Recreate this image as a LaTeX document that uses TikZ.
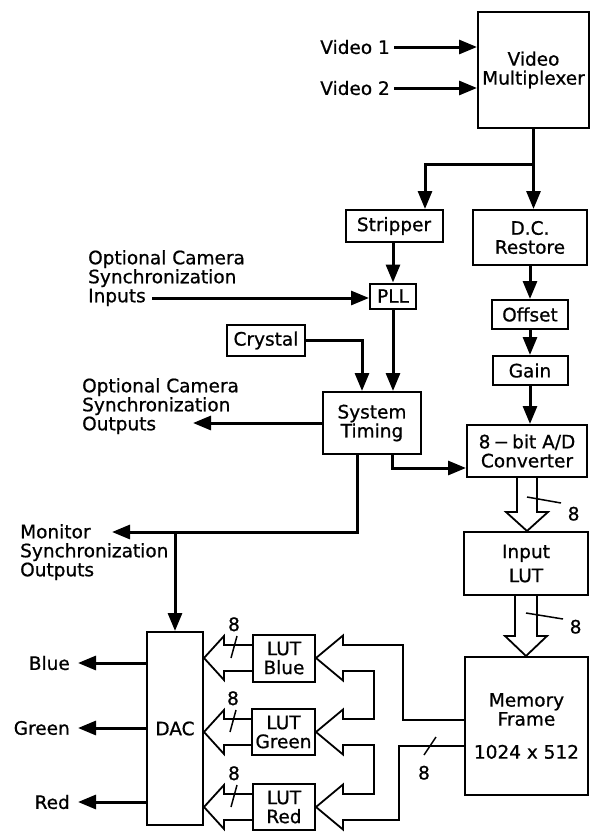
\documentclass[tikz,border=0pt]{standalone}
\usepackage{fontspec}
\setmainfont{DejaVu Sans}[FakeBold=0.8]
\usetikzlibrary{arrows.meta, positioning, calc}

\begin{document}
\begin{tikzpicture}[x=1pt,y=-1pt,
  font=\fontsize{18.5}{19}\selectfont,
  blk/.style={draw,line width=2pt,inner sep=0pt,align=center},
  lbl/.style={inner sep=0pt,align=left},
  sig/.style={line width=3pt,-{Triangle[length=18pt,width=14pt]}},
  bus/.style={line width=1.8pt},
  tick/.style={line width=1.5pt}]
\useasboundingbox (0,0) rectangle (590,833);

% blocks
\node[blk,minimum width=111pt,minimum height=116pt] (mux) at (533.5,70) {Video\\Multiplexer};
\node[blk,minimum width=97pt,minimum height=32pt] (strip) at (394,226) {Stripper};
\node[blk,minimum width=114pt,minimum height=55pt] (dcr) at (530,237.5) {D.C.\\Restore};
\node[blk,minimum width=46pt,minimum height=25pt] (pll) at (393,296) {PLL};
\node[blk,minimum width=76pt,minimum height=29pt] (offset) at (530,314.5) {Offset};
\node[blk,minimum width=78pt,minimum height=31pt] (crystal) at (266,340.5) {Crystal};
\node[blk,minimum width=75pt,minimum height=29pt] (gain) at (530,370.5) {Gain};
\node[blk,minimum width=98pt,minimum height=62pt] (timing) at (372,423) {System\\Timing};
\node[blk,minimum width=120pt,minimum height=52pt] (ad) at (527,451) {8\,−\,bit A/D\\Converter};
\node[blk,minimum width=124pt,minimum height=63pt] (inlut) at (526,563.5) {Input\\[5pt]LUT};
\node[blk,minimum width=123pt,minimum height=138pt] (mem) at (526.5,726) {Memory\\Frame\\[14pt]1024 x 512};
\node[blk,minimum width=56pt,minimum height=193pt] (dac) at (175,728.5) {DAC};
\node[blk,minimum width=62pt,minimum height=47pt] (lutb) at (284,658) {LUT\\Blue};
\node[blk,minimum width=63pt,minimum height=46pt] (lutg) at (283.5,732) {LUT\\Green};
\node[blk,minimum width=62pt,minimum height=46pt] (lutr) at (284,807) {LUT\\Red};

% labels
\node[lbl,anchor=east,inner xsep=4pt] (v1) at (394,47) {Video 1};
\node[lbl,anchor=east,inner xsep=4pt] (v2) at (394,88) {Video 2};
\node[lbl,anchor=north west] (caminlbl) at (88,250) {Optional Camera\\Synchronization\\Inputs};
\coordinate (camin) at (152,298);
\node[lbl,anchor=north west] (camoutlbl) at (82,378) {Optional Camera\\Synchronization\\Outputs};
\coordinate (camout) at (193,423);
\node[lbl,anchor=north west] (monlbl) at (20,524) {Monitor\\Synchronization\\Outputs};
\coordinate (mon) at (112,532);
\node[lbl,anchor=east,inner xsep=8pt] (blue) at (78,663) {Blue};
\node[lbl,anchor=east,inner xsep=8pt] (green) at (78,728) {Green};
\node[lbl,anchor=east,inner xsep=8pt] (red) at (78,802) {Red};

% signal lines
\draw[sig] (v1) -- (v1 -| mux.west);
\draw[sig] (v2) -- (v2 -| mux.west);
\coordinate (split) at ($(mux.south)+(0,35)$);
\draw[line width=3pt] (mux.south) -- (split);
\draw[sig] (split) -| ($(strip.north)+(31,0)$);
\draw[sig] (split) -- (split |- dcr.north);
\draw[sig] (strip.south -| pll) -- (pll);
\draw[sig] (camin) -- (camin -| pll.west);
\draw[sig] (pll) -- (pll |- timing.north);
\draw[sig] (crystal) -| ($(timing.north)+(-10,0)$);
\draw[sig] (timing.west) -- (camout);
\draw[sig] ($(timing.south)+(20,0)$) |- ($(ad.south west)+(0,-10)$);
\draw[sig] ($(timing.south)+(-15,0)$) |- (mon);
\draw[sig] (dac.north |- mon) -- (dac.north);
\draw[sig] (dcr) -- (offset);
\draw[sig] (offset) -- (gain);
\draw[sig] (gain) -- (gain |- ad.north);
\draw[sig] (dac.west |- blue) -- (blue);
\draw[sig] (dac.west |- green) -- (green);
\draw[sig] (dac.west |- red) -- (red);

% 8-bit buses
\draw[bus] ($(ad.south)+(-10,0)$) -- ($(ad.south |- inlut.north)+(-10,-19)$) -- ++(-11,0) -- (ad.south |- inlut.north) -- ++(21,-19) -- ++(-11,0) -- ($(ad.south)+(10,0)$);
\draw[tick] ($(ad.south)+(0,19)$) -- ++(34,6) node[anchor=north west,inner sep=0pt,xshift=6pt,yshift=-3pt] {8};
\draw[bus] ($(inlut.south)+(-11,0)$) -- ($(inlut.south |- mem.north)+(-11,-20)$) -- ++(-10,0) -- (inlut.south |- mem.north) -- ++(21,-20) -- ++(-10,0) -- ($(inlut.south)+(11,0)$);
\draw[tick] ($(inlut.south)+(0,17)$) -- ++(37,6) node[anchor=north west,inner sep=0pt,xshift=6pt] {8};
\foreach \lut in {lutb,lutg,lutr} {
  \draw[bus] ($(\lut.west)+(0,-13)$) -- ($(dac.east |- \lut)+(20,-13)$) -- ++(0,-9) -- (dac.east |- \lut) -- ++(20,22) -- ++(0,-9) -- ($(\lut.west)+(0,13)$);
  \draw[tick] ($(\lut.west)+(-21,0)$) -- ++(6,-22) node[anchor=south,inner sep=0pt,xshift=-3pt,yshift=4pt] {8};
}
\coordinate (busa) at ($(mem.west)+(0,-6)$);
\coordinate (busb) at ($(mem.west)+(0,20)$);
\draw[bus] (busa) -| ($(lutb.east)+(87,-13)$) -- ($(lutb.east)+(27,-13)$) -- ++(0,-9.5) -- (lutb.east) -- ++(27,22.5) -- ++(0,-9.5) -- ++(31,0)
  |- ($(lutg.east)+(27,-13)$) -- ++(0,-9.5) -- (lutg.east) -- ++(27,22.5) -- ++(0,-9.5) -- ++(31,0)
  |- ($(lutr.east)+(27,-13)$) -- ++(0,-9.5) -- (lutr.east) -- ++(27,22.5) -- ++(0,-9.5) -| ($(busb)+(-65,0)$) -- (busb);
\draw[tick] ($(busb)+(-28,-9)$) -- ++(-12,18) node[below=10pt,inner sep=0pt] {8};
\end{tikzpicture}
\end{document}
